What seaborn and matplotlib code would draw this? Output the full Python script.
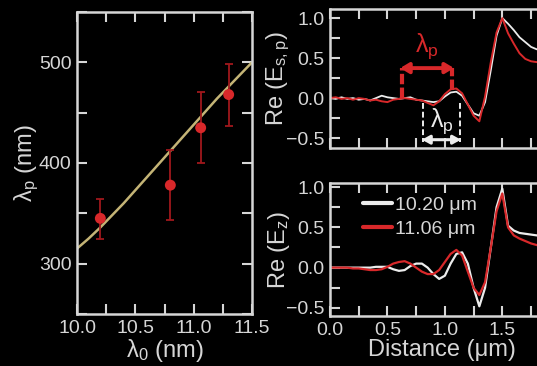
import numpy as np
import pandas as pd
import matplotlib
matplotlib.use("Agg")
import matplotlib.pyplot as plt
from matplotlib.ticker import MultipleLocator
import seaborn as sns

# ---- left panel: plasmon wavelength vs. excitation wavelength ----
lam0_meas = [10.20, 10.80, 11.06, 11.30]
lamp_meas = [345, 378, 435, 468]
lamp_lo = [325, 343, 400, 437]
lamp_hi = [364, 413, 471, 498]

lam0_model = [10.0, 10.1, 10.2, 10.3, 10.4, 10.5, 10.6, 10.7, 10.8,
              10.9, 11.0, 11.1, 11.2, 11.3, 11.4, 11.5]
lamp_model = [315, 325, 336, 348, 360, 373, 386, 399, 412,
              425, 438, 451, 464, 476, 488, 500]

# ---- right panels: field profiles along distance ----
distance = [0.00, 0.05, 0.10, 0.15, 0.20, 0.25, 0.30, 0.35, 0.40, 0.45,
            0.50, 0.55, 0.60, 0.65, 0.70, 0.75, 0.80, 0.85, 0.90, 0.95,
            1.00, 1.05, 1.10, 1.15, 1.20, 1.25, 1.30, 1.35, 1.40, 1.45,
            1.50, 1.55, 1.60, 1.65, 1.70, 1.75, 1.80, 1.85]

esp_1020 = [0.00, -0.01, 0.01, -0.01, 0.00, -0.02, -0.01, -0.03, 0.00, 0.03,
            0.01, 0.00, -0.01, 0.00, 0.01, -0.02, -0.03, -0.04, -0.05, -0.04,
            0.02, 0.07, 0.08, 0.03, -0.08, -0.19, -0.22, -0.05, 0.35, 0.78,
            1.00, 0.93, 0.85, 0.76, 0.70, 0.64, 0.61, 0.60]
esp_1106 = [0.00, 0.01, -0.01, 0.00, -0.02, 0.00, -0.01, -0.03, -0.02, -0.04,
            -0.05, -0.02, -0.01, 0.00, -0.01, -0.02, -0.03, -0.06, -0.09, -0.04,
            0.05, 0.11, 0.12, 0.06, -0.08, -0.22, -0.29, 0.02, 0.45, 0.82,
            1.00, 0.81, 0.68, 0.56, 0.49, 0.46, 0.45, 0.44]

ez_1020 = [0.00, 0.00, 0.00, 0.00, 0.00, 0.00, 0.00, 0.00, 0.01, 0.01,
           0.01, -0.02, -0.04, -0.03, 0.02, 0.05, 0.05, 0.00, -0.08, -0.14,
           -0.10, 0.05, 0.17, 0.19, 0.05, -0.25, -0.48, -0.25, 0.25, 0.75,
           0.98, 0.52, 0.46, 0.43, 0.42, 0.41, 0.40, 0.40]
ez_1106 = [0.00, 0.00, 0.00, 0.00, -0.01, -0.01, -0.02, -0.03, -0.03, -0.02,
           0.01, 0.05, 0.07, 0.08, 0.05, 0.00, -0.05, -0.08, -0.08, -0.03,
           0.07, 0.17, 0.22, 0.15, -0.05, -0.25, -0.34, -0.18, 0.25, 0.70,
           0.92, 0.50, 0.40, 0.36, 0.33, 0.30, 0.28, 0.27]

series_labels = ["10.20 \u03bcm", "11.06 \u03bcm"]

# ---- styling ----
BG = "#000000"
FG = "#d6d6d6"
RED = "#d8282a"
DARKRED = "#a0181c"
WHITE = "#ececec"
GOLD = "#c4b476"

sns.set_style("dark", {
    "axes.facecolor": BG, "figure.facecolor": BG,
    "axes.edgecolor": FG, "axes.labelcolor": FG,
    "xtick.color": FG, "ytick.color": FG, "text.color": FG,
    "axes.grid": False,
    "xtick.direction": "in", "ytick.direction": "in",
    "xtick.bottom": True, "ytick.left": True,
})
plt.rcParams["font.family"] = ["Liberation Sans", "DejaVu Sans"]
plt.rcParams["mathtext.fontset"] = "custom"
plt.rcParams["mathtext.rm"] = "Liberation Sans"
plt.rcParams["mathtext.it"] = "Liberation Sans"
plt.rcParams["mathtext.default"] = "rm"

W, H = 537, 366
fig = plt.figure(figsize=(W / 100, H / 100), dpi=100)


def px_axes(x0, y0, x1, y1):
    return fig.add_axes([x0 / W, 1 - y1 / H, (x1 - x0) / W, (y1 - y0) / H])


def style_axes(ax, xmaj, xmin, ymaj, ymin):
    for sp in ax.spines.values():
        sp.set_visible(True)
        sp.set_color(FG)
        sp.set_linewidth(1.8)
    ax.xaxis.set_major_locator(MultipleLocator(xmaj))
    ax.xaxis.set_minor_locator(MultipleLocator(xmin))
    ax.yaxis.set_major_locator(MultipleLocator(ymaj))
    ax.yaxis.set_minor_locator(MultipleLocator(ymin))
    ax.tick_params(which="both", direction="in", top=True, right=True,
                   bottom=True, left=True, length=7, width=1.5, colors=FG,
                   labelsize=14, pad=4)


# left panel
axL = px_axes(77, 12, 252, 314)
sns.lineplot(x=lam0_model, y=lamp_model, ax=axL, color=GOLD, lw=1.8)
yerr = [np.array(lamp_meas) - np.array(lamp_lo), np.array(lamp_hi) - np.array(lamp_meas)]
axL.errorbar(lam0_meas, lamp_meas, yerr=yerr, fmt="none", ecolor=DARKRED,
             elinewidth=1.3, capsize=2.6, capthick=1.3, zorder=3)
sns.scatterplot(x=lam0_meas, y=lamp_meas, ax=axL, color=RED, s=62,
                edgecolor="none", zorder=4)
axL.set_xlim(10.0, 11.5)
axL.set_ylim(250, 550)
style_axes(axL, 0.5, 0.25, 100, 50)
axL.set_xlabel("\u03bb$_0$ (nm)", fontsize=17, labelpad=0)
axL.set_ylabel("\u03bb$_\\mathrm{p}$ (nm)", fontsize=17, labelpad=-2)

# top-right panel
axT = px_axes(330, 9.3, 554, 147.7)
sns.lineplot(x=distance, y=esp_1020, ax=axT, color=WHITE, lw=1.3)
sns.lineplot(x=distance, y=esp_1106, ax=axT, color=RED, lw=1.4)
axT.set_xlim(0, 1.95)
axT.set_ylim(-0.62, 1.11)
style_axes(axT, 0.5, 0.25, 0.5, 0.25)
axT.tick_params(labelbottom=False)
axT.set_xlabel("")
axT.set_ylabel("Re (E$_{s,p}$)", fontsize=17, labelpad=-4)

# red bracket
for xv, ybot in [(0.625, 0.0), (1.065, 0.10)]:
    axT.plot([xv, xv], [ybot, 0.375], color=RED, lw=3, dashes=(2.5, 0.8),
             solid_capstyle="butt")
axT.annotate("", xy=(0.61, 0.375), xytext=(1.08, 0.375),
             arrowprops=dict(arrowstyle="<|-|>,head_length=0.5,head_width=0.3",
                             color=RED, lw=2.8, shrinkA=0, shrinkB=0))
axT.text(0.845, 0.47, "\u03bb$_\\mathrm{p}$", color=RED, fontsize=18,
         ha="center", va="bottom")

# white bracket
for xv in [0.81, 1.13]:
    axT.plot([xv, xv], [-0.06, -0.55], color=WHITE, lw=1.4, dashes=(3, 1.5))
axT.annotate("", xy=(0.80, -0.52), xytext=(1.14, -0.52),
             arrowprops=dict(arrowstyle="<|-|>,head_length=0.45,head_width=0.25",
                             color=WHITE, lw=2.2, shrinkA=0, shrinkB=0))
axT.text(0.97, -0.29, "\u03bb$_\\mathrm{p}$", color=WHITE, fontsize=18,
         ha="center", va="center")

# bottom-right panel
axB = px_axes(330, 183, 554, 316)
sns.lineplot(x=distance, y=ez_1020, ax=axB, color=WHITE, lw=1.6, label=series_labels[0])
sns.lineplot(x=distance, y=ez_1106, ax=axB, color=RED, lw=1.6, label=series_labels[1])
axB.set_xlim(0, 1.95)
axB.set_ylim(-0.6, 1.05)
style_axes(axB, 0.5, 0.25, 0.5, 0.25)
axB.set_xlabel("Distance (\u03bcm)", fontsize=17, labelpad=0)
axB.set_ylabel("Re (E$_z$)", fontsize=17, labelpad=-4)
leg = axB.legend(loc="upper left", bbox_to_anchor=(0.085, 1.0), frameon=False,
                 fontsize=14, handlelength=1.5, handletextpad=0.15,
                 labelspacing=0.3, borderaxespad=0.3)
for line in leg.get_lines():
    line.set_linewidth(3)
for t in leg.get_texts():
    t.set_color(FG)

fig.savefig("out.png", dpi=100, facecolor=BG)
